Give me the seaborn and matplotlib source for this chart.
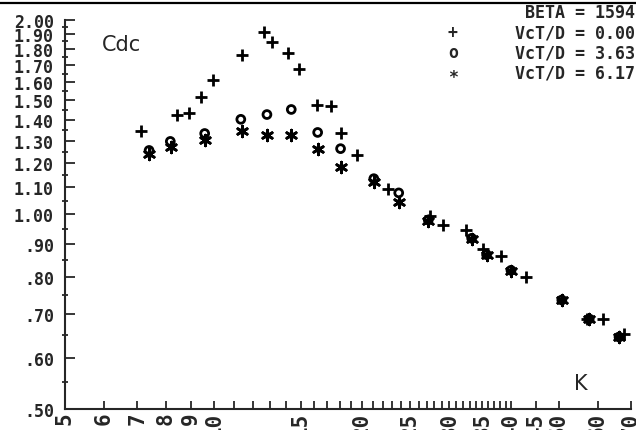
import numpy as np
import pandas as pd
import matplotlib
matplotlib.use("Agg")
import matplotlib.pyplot as plt
import seaborn as sns
from matplotlib.ticker import FixedLocator, NullFormatter
from matplotlib.lines import Line2D

# ---- data ----
k_plus = [7.11, 8.41, 8.90, 9.41, 9.97, 11.4, 12.64, 13.1, 14.14, 14.86, 16.2, 17.3,
          18.1, 19.5, 22.5, 27.4, 29.2, 32.4, 35.1, 38.2, 43.0, 57.0, 61.3, 67.7]
cdc_plus = [1.346, 1.426, 1.436, 1.517, 1.614, 1.762, 1.91, 1.848, 1.778, 1.676, 1.477, 1.47,
            1.335, 1.236, 1.093, 0.993, 0.963, 0.944, 0.885, 0.861, 0.801, 0.689, 0.690, 0.653]

k_circ = [7.40, 8.17, 9.59, 11.35, 12.82, 14.36, 16.24, 18.07, 21.1, 23.7, 27.2, 33.3,
          35.7, 40.0, 50.7, 57.6, 66.2]
cdc_circ = [1.255, 1.296, 1.333, 1.402, 1.426, 1.452, 1.338, 1.263, 1.135, 1.079, 0.980, 0.918,
            0.866, 0.819, 0.737, 0.689, 0.646]

k_star = [7.40, 8.2, 9.6, 11.4, 12.85, 14.36, 16.3, 18.1, 21.1, 23.7, 27.2, 33.3,
          35.7, 40.0, 50.7, 57.6, 66.2]
cdc_star = [1.241, 1.271, 1.301, 1.346, 1.324, 1.328, 1.263, 1.182, 1.120, 1.045, 0.975, 0.915,
            0.864, 0.817, 0.737, 0.689, 0.646]

legend_labels = ["VcT/D = 0.00", "VcT/D = 3.63", "VcT/D = 6.17"]
beta_label = "BETA = 1594"

y_major = [0.5, 0.6, 0.7, 0.8, 0.9, 1.0, 1.1, 1.2, 1.3, 1.4, 1.5, 1.6, 1.7, 1.8, 1.9, 2.0]
y_minor = [0.55, 0.65, 0.75, 0.85, 0.95, 1.05, 1.15, 1.25, 1.35, 1.45, 1.55, 1.65, 1.75, 1.85, 1.95]
x_major = [5, 6, 7, 8, 9, 10, 15, 20, 25, 30, 35, 40, 45, 50, 60, 70]
x_minor = [11, 12, 13, 14, 16, 17, 18, 19, 21, 22, 23, 24, 26, 27, 28, 29,
           31, 32, 33, 34, 36, 37, 38, 39]

# ---- style ----
sns.set_style("ticks")
plt.rcParams["font.family"] = ["DejaVu Sans"]
mono = "DejaVu Sans Mono"

W, H = 636, 431
fig = plt.figure(figsize=(W / 100, H / 100), dpi=100)
ax = fig.add_axes([65 / W, 21 / H, 566 / W, 389.5 / H])

df_p = pd.DataFrame({"K": k_plus, "Cdc": cdc_plus})
df_o = pd.DataFrame({"K": k_circ, "Cdc": cdc_circ})
df_s = pd.DataFrame({"K": k_star, "Cdc": cdc_star})

sns.scatterplot(data=df_p, x="K", y="Cdc", marker="+", color="black", s=75,
                linewidth=2.0, ax=ax, zorder=3)
sns.scatterplot(data=df_o, x="K", y="Cdc", marker="o", color="black", facecolor="none",
                edgecolor="black", s=32, linewidth=2.0, ax=ax, zorder=3)
sns.scatterplot(data=df_s, x="K", y="Cdc", marker=(6, 2, 0), color="black", s=60,
                linewidth=2.0, ax=ax, zorder=3)

ax.set_xscale("log")
ax.set_yscale("log")
ax.set_xlim(5, 70)
ax.set_ylim(0.5, 2.0)

def ylab(v):
    return f".{int(round(v * 100)):02d}" if v < 1 else f"{v:.2f}"

ax.yaxis.set_major_locator(FixedLocator(y_major))
ax.yaxis.set_minor_locator(FixedLocator(y_minor))
ax.set_yticklabels([ylab(v) for v in y_major], fontfamily=mono, fontweight="bold", fontsize=12)
ax.yaxis.set_minor_formatter(NullFormatter())

ax.xaxis.set_major_locator(FixedLocator(x_major))
ax.xaxis.set_minor_locator(FixedLocator(x_minor))
ax.set_xticklabels([str(v) for v in x_major], fontfamily=mono, fontweight="bold",
                   fontsize=15, rotation=90, va="top", ha="center")
ax.xaxis.set_minor_formatter(NullFormatter())

ax.tick_params(axis="y", which="major", direction="in", length=7, width=1.3, pad=8)
ax.tick_params(axis="y", which="minor", direction="inout", length=5, width=1.3)
ax.tick_params(axis="x", which="both", direction="in", length=6, width=1.3, pad=2)

for s in ["top", "right"]:
    ax.spines[s].set_visible(False)
for s in ["left", "bottom"]:
    ax.spines[s].set_linewidth(1.5)

ax.set_xlabel("")
ax.set_ylabel("")

ax.text((102 - 65) / 566, 1 - (45 - 20.5) / 389.5, "Cdc", transform=ax.transAxes,
        fontsize=15, va="center", ha="left")
ax.text((581 - 65) / 566, (410 - 384) / 389.5, "K", transform=ax.transAxes,
        fontsize=15, va="center", ha="center")

# legend block (upper right)
ytops = [13, 33, 53, 73]
fig.text(635 / W, 1 - ytops[0] / H, beta_label, fontfamily=mono, fontweight="bold",
         fontsize=12, ha="right", va="center")
symbols = ["+", "o", "\u2217"]
for sym, lab, yy in zip(symbols, legend_labels, ytops[1:]):
    fig.text(635 / W, 1 - yy / H, lab, fontfamily=mono, fontweight="bold",
             fontsize=12, ha="right", va="center")
    fig.text(453 / W, 1 - yy / H, sym, fontfamily=mono, fontweight="bold",
             fontsize=12, ha="center", va="center")

# page frame line at top
fig.add_artist(Line2D([0, 1], [1 - 4 / H, 1 - 4 / H], transform=fig.transFigure,
                      color="black", lw=1.6))

fig.savefig("out.png", dpi=100)
